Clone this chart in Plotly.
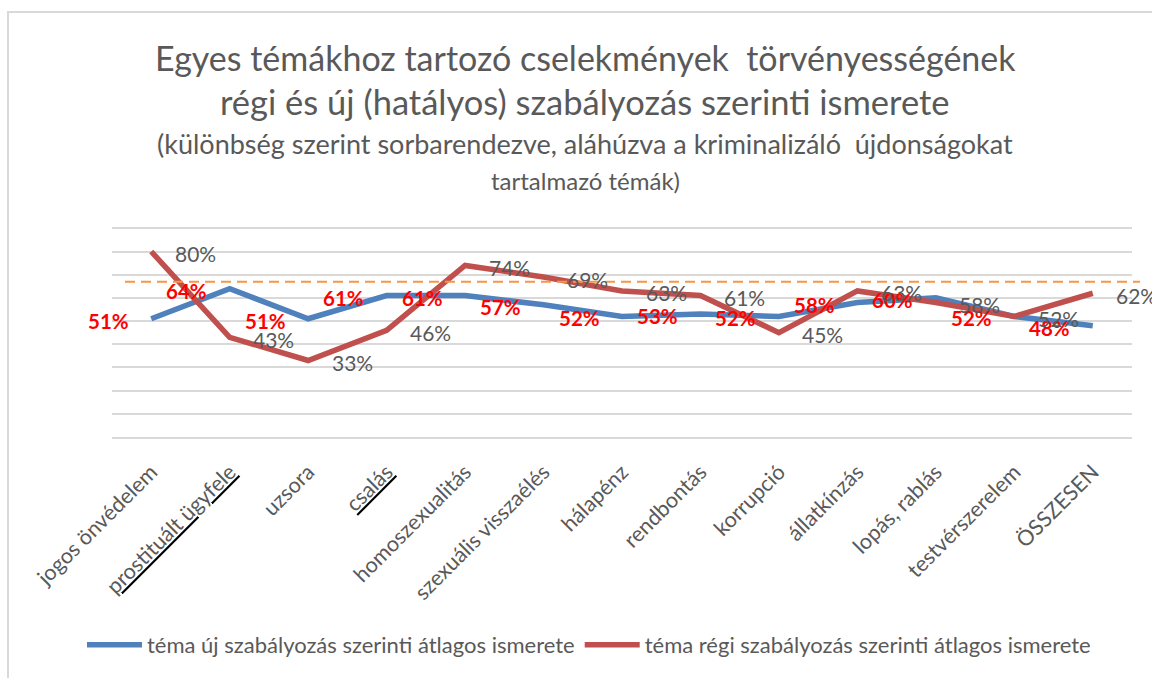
import plotly.graph_objects as go

categories = ["jogos önvédelem", "prostituált ügyfele", "uzsora", "csalás",
              "homoszexualitás", "szexuális visszaélés", "hálapénz", "rendbontás",
              "korrupció", "állatkínzás", "lopás, rablás", "testvérszerelem", "ÖSSZESEN"]
underlined = ["prostituált ügyfele", "csalás"]
uj_values = [51, 64, 51, 61, 61, 57, 52, 53, 52, 58, 60, 52, 48]
regi_values = [80, 43, 33, 46, 74, 69, 63, 61, 45, 63, 58, 52, 62]
reference_level = 67
grid_levels = [0, 10, 20, 30, 40, 50, 60, 70, 80, 90]
series_names = ["téma új szabályozás szerinti átlagos ismerete",
                "téma régi szabályozás szerinti átlagos ismerete"]
title_lines = ["Egyes témákhoz tartozó cselekmények  törvényességének",
               "régi és új (hatályos) szabályozás szerinti ismerete",
               "(különbség szerint sorbarendezve, aláhúzva a kriminalizáló  újdonságokat",
               "tartalmazó témák)"]

FONT = "Lato"
GRAY = "#595959"
BLUE = "#4F81BD"
RED = "#C0504D"

ticktext = [
    f'<span style="color:#000000"><u><span style="color:{GRAY}">{c}</span></u></span>'
    if c in underlined else c for c in categories
]

fig = go.Figure()
fig.add_trace(go.Scatter(x=categories, y=uj_values, mode="lines", name=series_names[0],
                         line=dict(color=BLUE, width=5.5)))
fig.add_trace(go.Scatter(x=categories, y=regi_values, mode="lines", name=series_names[1],
                         line=dict(color=RED, width=5.5)))

annotations = []
for c, v in zip(categories, uj_values):
    annotations.append(dict(x=c, y=v, xref="x", yref="y", text=f"{v}%", showarrow=False,
                            xshift=-43, yshift=-2,
                            font=dict(family=FONT, size=20.5, color="#FF0000", weight="bold")))
for c, v in zip(categories, regi_values):
    annotations.append(dict(x=c, y=v, xref="x", yref="y", text=f"{v}%", showarrow=False,
                            xshift=44, yshift=-2,
                            font=dict(family=FONT, size=21, color=GRAY)))

# title lines
title_y = [57, 101, 143, 180]
title_size = [34, 34.5, 27, 24]
for txt, py, sz in zip(title_lines, title_y, title_size):
    annotations.append(dict(x=(585 - 112) / 1020, y=(437 - py) / 211, xref="paper", yref="paper",
                            text=txt, showarrow=False, xanchor="center", yanchor="middle",
                            font=dict(family=FONT, size=sz, color=GRAY)))

shapes = [
    dict(type="line", xref="paper", yref="y", x0=(125 - 112) / 1020, x1=(1140 - 112) / 1020,
         y0=reference_level, y1=reference_level,
         line=dict(color="#F79646", width=2, dash="10px,6px")),
    dict(type="rect", xref="paper", yref="paper", x0=(8 - 112) / 1020, x1=1.2,
         y0=-2.0, y1=(437 - 12) / 211, line=dict(color="#D9D9D9", width=2),
         fillcolor="rgba(0,0,0,0)", layer="below"),
]

fig.update_layout(
    width=1152, height=678,
    margin=dict(l=112, r=20, t=226, b=241, autoexpand=False),
    paper_bgcolor="white", plot_bgcolor="white",
    font=dict(family=FONT, color=GRAY),
    showlegend=True,
    legend=dict(orientation="h", x=(589 - 112) / 1020, xanchor="center", y=(437 - 645) / 211,
                yanchor="middle",
                font=dict(family=FONT, size=22, color=GRAY), itemwidth=55,
                bgcolor="rgba(0,0,0,0)"),
    annotations=annotations,
    shapes=shapes,
    xaxis=dict(type="category", range=[-0.5, len(categories) - 0.5],
               tickvals=categories, ticktext=ticktext, tickangle=-45,
               tickfont=dict(family=FONT, size=21.5, color=GRAY), ticklabelstandoff=12,
               showgrid=False, showline=True, linecolor="#D9D9D9", linewidth=2,
               ticks="", fixedrange=True, automargin=False),
    yaxis=dict(range=[0, 91], tickmode="array", tickvals=grid_levels,
               showgrid=True, gridcolor="#D9D9D9", gridwidth=2,
               showticklabels=False, zeroline=False, showline=False, fixedrange=True,
               automargin=False),
)

fig.write_html("out.html", config={"displayModeBar": False},
               post_script="document.body.style.margin='0';document.body.style.overflow='hidden';")
